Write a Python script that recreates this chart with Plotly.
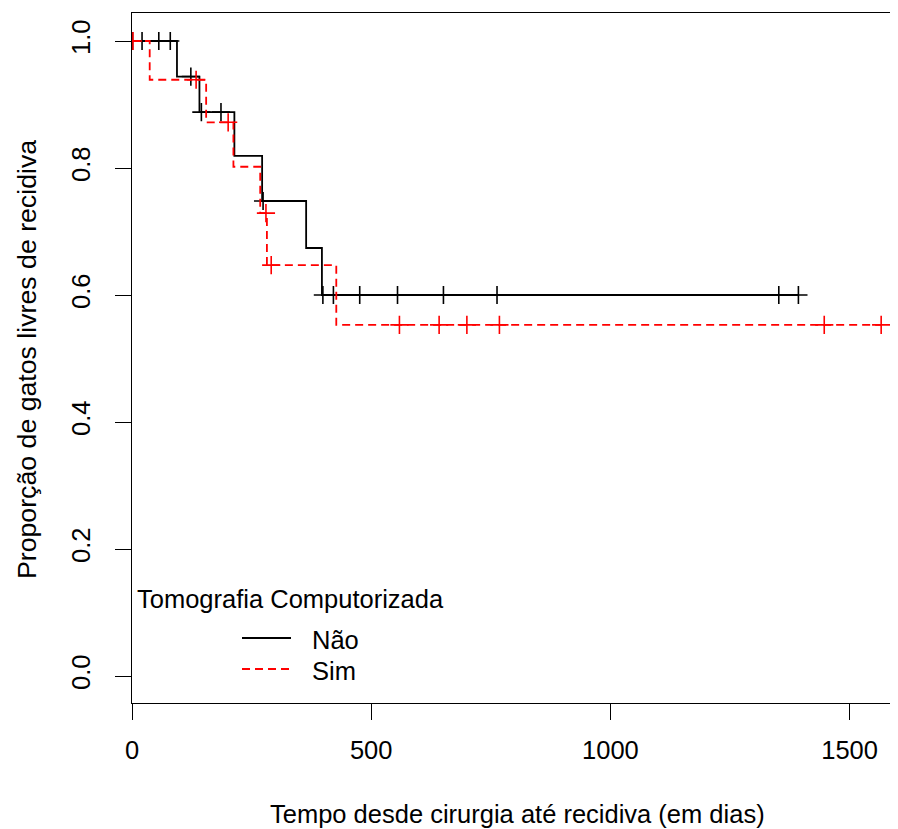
import numpy as np
import plotly.graph_objects as go

# ---- data ----
nao_event_times = [94, 141, 214, 272, 364, 397]
nao_levels = [0.944, 0.888, 0.819, 0.748, 0.674, 0.600]
nao_end = 1393
nao_censor = [1, 21, 56, 80, 123, 145, 186, 274, 399, 421, 476, 555, 651, 763, 1352, 1393]

sim_event_times = [37, 155, 212, 268, 282, 427]
sim_levels = [0.939, 0.872, 0.802, 0.729, 0.647, 0.553]
sim_end = 1566
sim_censor = [2, 134, 201, 280, 291, 559, 642, 700, 768, 1447, 1566]

x_ticks = [0, 500, 1000, 1500]
y_ticks = [0.0, 0.2, 0.4, 0.6, 0.8, 1.0]
y_tick_labels = ["0.0", "0.2", "0.4", "0.6", "0.8", "1.0"]

legend_title = "Tomografia Computorizada"
group_names = ["Não", "Sim"]
x_title = "Tempo desde cirurgia até recidiva (em dias)"
y_title = "Proporção de gatos livres de recidiva"

# ---- layout geometry (page has an 8px body margin) ----
OFF = 8
W, H = 898 - OFF, 829 - OFF
ML, MR, MT, MB = 132 - OFF, 0, 13 - OFF, H - (703 - OFF)
PW, PH = W - ML - MR, H - MT - MB
FONT = "Arial, Liberation Sans, sans-serif"
FS = 25.5


def px_x(px):
    return (px - OFF - ML) / PW


def px_y(py):
    return (H - MB - (py - OFF)) / PH


def step_xy(times, levels, end):
    xs = [0] + list(times) + [end]
    ys = [1.0] + list(levels) + [levels[-1]]
    return xs, ys


def surv_at(t_query, times, levels):
    t = np.asarray(times)
    lv = np.concatenate([[1.0], levels])
    idx = np.searchsorted(t, np.asarray(t_query), side="right")
    return lv[idx]


fig = go.Figure()

groups = [
    (nao_event_times, nao_levels, nao_end, nao_censor, "#000000", "solid"),
    (sim_event_times, sim_levels, sim_end, sim_censor, "#FF0000", "8px,5px"),
]
for (times, levels, end, cens, color, dash), name in zip(groups, group_names):
    xs, ys = step_xy(times, levels, end)
    fig.add_trace(go.Scatter(
        x=xs, y=ys, mode="lines", line=dict(color=color, width=1.8, dash=dash, shape="hv"),
        name=name, showlegend=False, hoverinfo="skip"))
    fig.add_trace(go.Scatter(
        x=cens, y=surv_at(cens, times, levels), mode="markers",
        marker=dict(symbol="cross-thin-open", size=13, color=color,
                    line=dict(color=color, width=1.6)),
        showlegend=False, hoverinfo="skip"))

# manual legend (R style)
annotations = [
    dict(text=legend_title, x=px_x(135), y=px_y(599), xref="paper", yref="paper",
         xanchor="left", yanchor="middle", showarrow=False, font=dict(family=FONT, size=FS, color="black")),
]
shapes = []
for i, (name, (_, _, _, _, color, dash)) in enumerate(zip(group_names, groups)):
    yy = [638, 669][i]
    shapes.append(dict(type="line", xref="paper", yref="paper", x0=px_x(242), x1=px_x(291),
                       y0=px_y(yy), y1=px_y(yy), line=dict(color=color, width=1.8, dash=dash)))
    annotations.append(dict(text=name, x=px_x(310), y=px_y(yy + 2), xref="paper", yref="paper",
                            xanchor="left", yanchor="middle", showarrow=False,
                            font=dict(family=FONT, size=FS, color="black")))

# axis titles
annotations.append(dict(text=x_title, x=px_x(517), y=px_y(814), xref="paper", yref="paper",
                        xanchor="center", yanchor="middle", showarrow=False,
                        font=dict(family=FONT, size=FS, color="black")))
annotations.append(dict(text=y_title, x=px_x(27), y=px_y(360), xref="paper", yref="paper",
                        xanchor="center", yanchor="middle", showarrow=False, textangle=-90,
                        font=dict(family=FONT, size=26.7, color="black")))

px_per_day = 0.4784
y_px_per_unit = 635.0
fig.update_layout(
    width=W, height=H, margin=dict(l=ML, r=MR, t=MT, b=MB, pad=0),
    paper_bgcolor="white", plot_bgcolor="white",
    font=dict(family=FONT, size=FS, color="black"),
    annotations=annotations, shapes=shapes, showlegend=False,
    xaxis=dict(range=[0, PW / px_per_day], tickmode="array", tickvals=x_ticks,
               ticks="outside", ticklen=16, tickwidth=1.3, tickcolor="black",
               showline=True, linecolor="black", linewidth=1.3, mirror=True,
               showgrid=False, zeroline=False, ticklabelstandoff=8,
               tickfont=dict(family=FONT, size=FS, color="black")),
    yaxis=dict(range=[-(703 - 676) / y_px_per_unit, 1 + (41 - 13) / y_px_per_unit],
               tickmode="array", tickvals=y_ticks, ticktext=y_tick_labels, tickangle=-90,
               ticks="outside", ticklen=16, tickwidth=1.3, tickcolor="black",
               showline=True, linecolor="black", linewidth=1.3, mirror=False,
               showgrid=False, zeroline=False, ticklabelstandoff=15,
               tickfont=dict(family=FONT, size=FS, color="black")),
)

fig.write_html("out.html")
